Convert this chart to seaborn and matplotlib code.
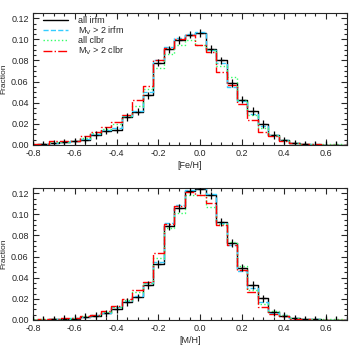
import numpy as np
import pandas as pd
import matplotlib
matplotlib.use('Agg')
import matplotlib.pyplot as plt
import seaborn as sns
from matplotlib.ticker import MultipleLocator

sns.set_style('ticks')
plt.rcParams['font.family'] = ['Liberation Sans', 'DejaVu Sans']

# bin centres (width 0.05)
centers = [-0.80, -0.75, -0.70, -0.65, -0.60, -0.55, -0.50, -0.45, -0.40, -0.35,
           -0.30, -0.25, -0.20, -0.15, -0.10, -0.05, 0.00, 0.05, 0.10, 0.15,
           0.20, 0.25, 0.30, 0.35, 0.40, 0.45, 0.50, 0.55, 0.60, 0.65, 0.70]

# [Fe/H] panel
feh_all_irfm = [0.0003, 0.0006, 0.0015, 0.0025, 0.0035, 0.0050, 0.0095, 0.0135, 0.0145, 0.0265,
                0.0315, 0.0470, 0.0780, 0.0905, 0.0995, 0.1045, 0.1060, 0.0910, 0.0800, 0.0588,
                0.0428, 0.0322, 0.0198, 0.0095, 0.0042, 0.0016, 0.0006, 0.0003, 0.0002, 0.0001, 0.0]
feh_mv_irfm = [0.0002, 0.0005, 0.0015, 0.0028, 0.0038, 0.0058, 0.0105, 0.0140, 0.0160, 0.0270,
               0.0325, 0.0500, 0.0800, 0.0925, 0.1010, 0.1050, 0.1065, 0.0895, 0.0775, 0.0552,
               0.0418, 0.0290, 0.0180, 0.0098, 0.0048, 0.0018, 0.0007, 0.0004, 0.0002, 0.0001, 0.0]
feh_all_clbr = [0.0008, 0.0010, 0.0025, 0.0032, 0.0040, 0.0070, 0.0110, 0.0150, 0.0195, 0.0270,
                0.0370, 0.0525, 0.0730, 0.0865, 0.0950, 0.0995, 0.0950, 0.0895, 0.0745, 0.0640,
                0.0430, 0.0285, 0.0160, 0.0090, 0.0045, 0.0020, 0.0010, 0.0008, 0.0005, 0.0004, 0.0002]
feh_mv_clbr = [0.0005, 0.0010, 0.0040, 0.0040, 0.0040, 0.0080, 0.0120, 0.0165, 0.0215, 0.0280,
               0.0425, 0.0560, 0.0800, 0.0915, 0.1000, 0.1040, 0.0950, 0.0880, 0.0690, 0.0570,
               0.0387, 0.0240, 0.0126, 0.0080, 0.0040, 0.0015, 0.0006, 0.0004, 0.0002, 0.0001, 0.0]

# [M/H] panel
mh_all_irfm = [0.0001, 0.0003, 0.0005, 0.0008, 0.0012, 0.0030, 0.0040, 0.0062, 0.0105, 0.0168,
               0.0215, 0.0330, 0.0528, 0.0885, 0.1060, 0.1220, 0.1240, 0.1180, 0.0926, 0.0727,
               0.0496, 0.0330, 0.0205, 0.0072, 0.0040, 0.0015, 0.0006, 0.0005, 0.0003, 0.0002, 0.0]
mh_mv_irfm = [0.0001, 0.0002, 0.0005, 0.0008, 0.0015, 0.0032, 0.0042, 0.0068, 0.0118, 0.0175,
              0.0225, 0.0350, 0.0547, 0.0916, 0.1090, 0.1235, 0.1250, 0.1190, 0.0916, 0.0705,
              0.0465, 0.0300, 0.0174, 0.0070, 0.0042, 0.0016, 0.0007, 0.0005, 0.0003, 0.0002, 0.0]
mh_all_clbr = [0.0005, 0.0007, 0.0010, 0.0012, 0.0020, 0.0035, 0.0048, 0.0075, 0.0125, 0.0185,
               0.0260, 0.0345, 0.0585, 0.0870, 0.1010, 0.1185, 0.1180, 0.1065, 0.0910, 0.0740,
               0.0515, 0.0280, 0.0150, 0.0080, 0.0045, 0.0018, 0.0010, 0.0008, 0.0005, 0.0004, 0.0002]
mh_mv_clbr = [0.0003, 0.0008, 0.0012, 0.0015, 0.0020, 0.0040, 0.0050, 0.0080, 0.0136, 0.0196,
              0.0280, 0.0360, 0.0630, 0.0910, 0.1080, 0.1215, 0.1180, 0.1106, 0.0900, 0.0705,
              0.0470, 0.0260, 0.0126, 0.0052, 0.0038, 0.0012, 0.0005, 0.0003, 0.0002, 0.0001, 0.0]

labels = ['all irfm', r'M$_{\rm V}$ > 2 irfm', 'all clbr', r'M$_{\rm V}$ > 2 clbr']
colors = ['black', '#33ccff', '#33ff66', 'red']
styles = ['-', '--', ':', '-.']

fig = plt.figure(figsize=(3.5, 3.5), dpi=100)
ax1 = fig.add_axes([0.094, 0.586, 0.897, 0.377])
ax2 = fig.add_axes([0.094, 0.086, 0.897, 0.377])

panels = [(ax1, [feh_all_irfm, feh_mv_irfm, feh_all_clbr, feh_mv_clbr], '[Fe/H]'),
          (ax2, [mh_all_irfm, mh_mv_irfm, mh_all_clbr, mh_mv_clbr], '[M/H]')]

for ax, series, xlab in panels:
    for vals, lab, c, ls in zip(series, labels, colors, styles):
        df = pd.DataFrame({'x': centers, 'y': vals})
        sns.lineplot(data=df, x='x', y='y', ax=ax, color=c, linestyle=ls, lw=1.0,
                     drawstyle='steps-mid', estimator=None, label=lab)
    # error crosses on the full irfm sample
    ax.errorbar(centers, series[0], yerr=0.0035, xerr=0.012, fmt='none',
                ecolor='black', elinewidth=0.9, zorder=5)
    ax.set_xlim(-0.8, 0.7)
    ax.set_ylim(0, 0.125)
    ax.xaxis.set_major_locator(MultipleLocator(0.2))
    ax.xaxis.set_minor_locator(MultipleLocator(0.05))
    ax.yaxis.set_major_locator(MultipleLocator(0.02))
    ax.yaxis.set_minor_locator(MultipleLocator(0.005))
    ax.xaxis.set_major_formatter(matplotlib.ticker.FormatStrFormatter('%.1f'))
    ax.yaxis.set_major_formatter(matplotlib.ticker.FormatStrFormatter('%.2f'))
    ax.tick_params(which='both', direction='in', top=True, right=True,
                   labelsize=6.5, pad=3, width=0.8)
    ax.tick_params(which='major', length=4)
    ax.tick_params(which='minor', length=2)
    for s in ax.spines.values():
        s.set_linewidth(0.8)
    ax.set_xlabel(xlab, fontsize=6.5, labelpad=2)
    ax.set_ylabel('Fraction', fontsize=6, labelpad=3)
    ax.get_legend().remove()

ax1.legend(loc='upper left', bbox_to_anchor=(0.03, 0.985), frameon=False,
           fontsize=6.5, handlelength=2.8, labelspacing=-0.05, borderaxespad=0.0,
           borderpad=0.1, handletextpad=1.1)

fig.savefig('out.png', dpi=100)
